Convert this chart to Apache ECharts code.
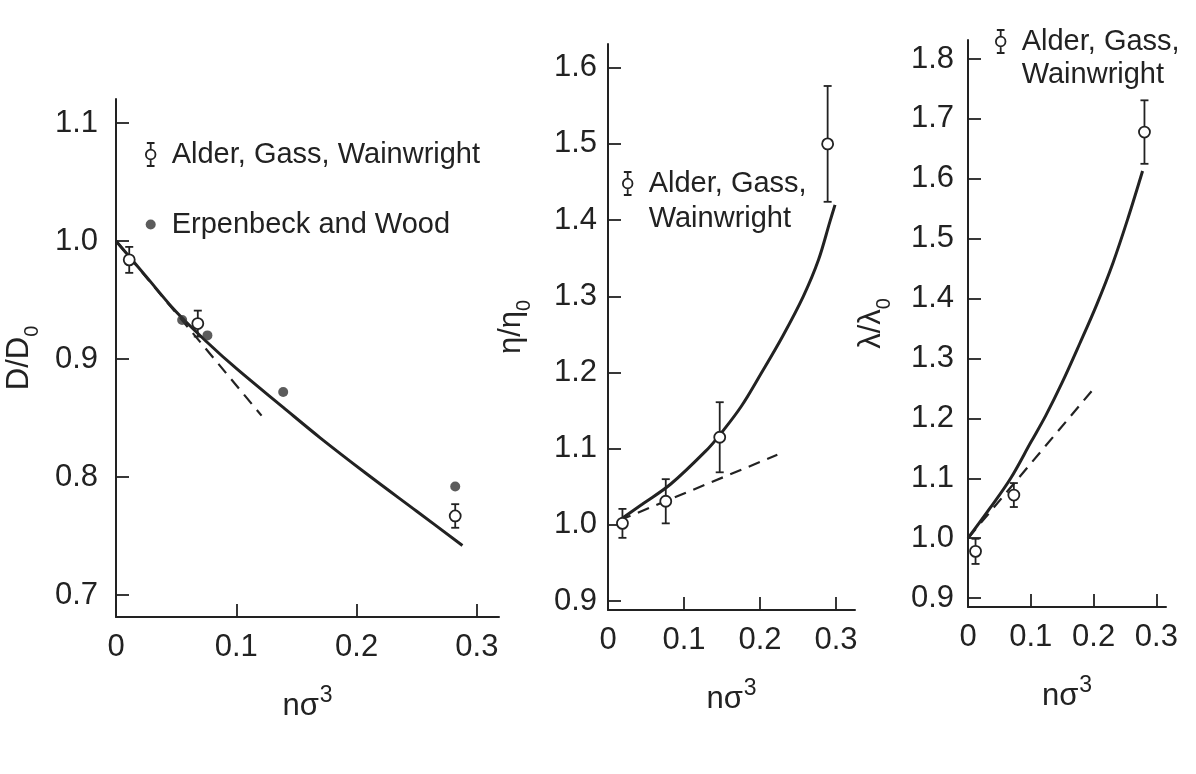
<!DOCTYPE html>
<html>
<head>
<meta charset="utf-8">
<title>Hard-sphere transport coefficients</title>
<script src="https://cdn.jsdelivr.net/npm/echarts@6/dist/echarts.min.js"></script>
<style>
  html, body { margin: 0; padding: 0; background: #fff; }
  #chart { width: 1196px; height: 774px; }
</style>
</head>
<body>
<div id="chart"></div>
<script>
// tick labels
var xTicks = [0, 0.1, 0.2, 0.3];
var diffTicks = [0.7, 0.8, 0.9, 1.0, 1.1];
var viscTicks = [0.9, 1.0, 1.1, 1.2, 1.3, 1.4, 1.5, 1.6];
var condTicks = [0.9, 1.0, 1.1, 1.2, 1.3, 1.4, 1.5, 1.6, 1.7, 1.8];

var agwName = 'Alder, Gass, Wainwright';
var ewName = 'Erpenbeck and Wood';

// panel 1: D/D0
var diffAgwX = [0.011, 0.068, 0.282];
var diffAgwY = [0.984, 0.930, 0.767];
var diffAgwErr = [0.011, 0.011, 0.010];
var diffEwX = [0.055, 0.076, 0.139, 0.282];
var diffEwY = [0.933, 0.920, 0.872, 0.792];
var diffCurveX = [0, 0.025, 0.05, 0.076, 0.1, 0.139, 0.17, 0.208, 0.25, 0.288];
var diffCurveY = [1.0, 0.970, 0.940, 0.914, 0.892, 0.859, 0.833, 0.803, 0.771, 0.742];
var diffDashX = [0, 0.121];
var diffDashY = [1.0, 0.852];

// panel 2: eta/eta0
var viscAgwX = [0.019, 0.076, 0.147, 0.289];
var viscAgwY = [1.002, 1.031, 1.115, 1.500];
var viscAgwErr = [0.019, 0.029, 0.046, 0.076];
var viscCurveX = [0.015, 0.045, 0.083, 0.1316, 0.147, 0.175, 0.2022, 0.23, 0.257, 0.277, 0.292, 0.2987];
var viscCurveY = [1.006, 1.027, 1.054, 1.100, 1.118, 1.155, 1.200, 1.248, 1.300, 1.348, 1.398, 1.420];
var viscDashX = [0.015, 0.2228];
var viscDashY = [1.006, 1.092];

// panel 3: lambda/lambda0
var condAgwX = [0.012, 0.073, 0.281];
var condAgwY = [0.978, 1.072, 1.678];
var condAgwErr = [0.021, 0.020, 0.053];
var condCurveX = [0, 0.035, 0.068, 0.1, 0.124, 0.15, 0.178, 0.205, 0.231, 0.255, 0.278];
var condCurveY = [1.0, 1.05, 1.10, 1.16, 1.205, 1.26, 1.325, 1.39, 1.46, 1.535, 1.613];
var condDashX = [0, 0.2045];
var condDashY = [1.0, 1.255];

var ink = '#222';
var fontFamily = '"Liberation Sans", Arial, Helvetica, sans-serif';
var errIcon = 'path://M1,0 L9,0 M5,0 L5,7 M10,12 A5,5 0 1,1 0,12 A5,5 0 1,1 10,12 Z M5,17 L5,24 M1,24 L9,24';

function zip(xs, ys) {
    return xs.map(function(x, i) { return [x, ys[i]]; });
}

function fmtTick(v) {
    return v === 0 ? '0' : v.toFixed(1);
}

function makeXAxis(idx, max) {
    return {
        type: 'value', gridIndex: idx, min: 0, max: max,
        name: '{n|nσ}{s|3}', nameLocation: 'middle', nameGap: 67,
        nameTextStyle: {
            color: ink, fontFamily: fontFamily,
            rich: {
                n: { fontSize: 31, fontFamily: fontFamily, color: ink, verticalAlign: 'bottom' },
                s: { fontSize: 23, fontFamily: fontFamily, color: ink, verticalAlign: 'bottom', padding: [0, 0, 15, 1] }
            }
        },
        splitLine: { show: false },
        axisLine: { lineStyle: { color: ink, width: 2 } },
        axisTick: { inside: true, length: 13, customValues: xTicks, lineStyle: { color: ink, width: 1.8 } },
        axisLabel: { customValues: xTicks, formatter: fmtTick, fontSize: 31, color: ink, fontFamily: fontFamily, margin: 15 }
    };
}

function makeYAxis(idx, min, max, ticks, base, labelMargin) {
    return {
        type: 'value', gridIndex: idx, min: min, max: max,
        name: '{a|' + base + '/' + base + '}{b|0}', nameLocation: 'middle', nameGap: 74, nameRotate: 90,
        nameTextStyle: {
            color: ink, fontFamily: fontFamily,
            rich: {
                a: { fontSize: 31, fontFamily: fontFamily, color: ink, verticalAlign: 'bottom', padding: [0, 0, 7, 0] },
                b: { fontSize: 20, fontFamily: fontFamily, color: ink, verticalAlign: 'bottom' }
            }
        },
        splitLine: { show: false },
        axisLine: { lineStyle: { color: ink, width: 2 } },
        axisTick: { inside: true, length: 13, customValues: ticks, lineStyle: { color: ink, width: 1.8 } },
        axisLabel: { customValues: ticks, formatter: fmtTick, fontSize: 31, color: ink, fontFamily: fontFamily, margin: labelMargin }
    };
}

function curveSeries(idx, xs, ys, dashed) {
    return {
        type: 'line', xAxisIndex: idx, yAxisIndex: idx,
        data: zip(xs, ys), smooth: dashed ? false : 0.35,
        showSymbol: false, silent: true, z: 2,
        lineStyle: dashed ? { color: ink, width: 2.2, type: [12, 8] } : { color: ink, width: 3 }
    };
}

function errorBarSeries(idx, xs, ys, errs) {
    return {
        type: 'custom', name: agwName, xAxisIndex: idx, yAxisIndex: idx, z: 3, silent: true,
        data: xs.map(function(x, i) { return [x, ys[i] - errs[i], ys[i] + errs[i]]; }),
        encode: { x: 0, y: [1, 2] },
        renderItem: function(params, api) {
            var lo = api.coord([api.value(0), api.value(1)]);
            var hi = api.coord([api.value(0), api.value(2)]);
            var w = 4;
            var st = { stroke: ink, lineWidth: 1.8 };
            return {
                type: 'group',
                children: [
                    { type: 'line', shape: { x1: lo[0], y1: lo[1], x2: hi[0], y2: hi[1] }, style: st },
                    { type: 'line', shape: { x1: lo[0] - w, y1: lo[1], x2: lo[0] + w, y2: lo[1] }, style: st },
                    { type: 'line', shape: { x1: hi[0] - w, y1: hi[1], x2: hi[0] + w, y2: hi[1] }, style: st }
                ]
            };
        }
    };
}

function openPointSeries(idx, xs, ys) {
    return {
        type: 'scatter', name: agwName, xAxisIndex: idx, yAxisIndex: idx, z: 4, silent: true,
        symbol: 'circle', symbolSize: 11, data: zip(xs, ys),
        itemStyle: { color: '#fff', borderColor: ink, borderWidth: 1.8, opacity: 1 }
    };
}

var legendText = { fontSize: 29, color: ink, fontFamily: fontFamily };
var legendIconStyle = { color: '#fff', borderColor: ink, borderWidth: 1.8 };
// two-line label, the leading blank line keeps the marker beside the first line
var twoLineLabel = function() { return '\nAlder, Gass,\nWainwright'; };

var chart = echarts.init(document.getElementById('chart'), null, { renderer: 'canvas' });

var option = {
    animation: false,
    backgroundColor: '#fff',
    grid: [
        { left: 116, top: 99, width: 383, height: 518 },
        { left: 608, top: 44, width: 247, height: 566 },
        { left: 968, top: 40, width: 198, height: 567 }
    ],
    xAxis: [
        makeXAxis(0, 0.3184),
        makeXAxis(1, 0.325),
        makeXAxis(2, 0.3153)
    ],
    yAxis: [
        makeYAxis(0, 0.6814, 1.1203, diffTicks, 'D', 18),
        makeYAxis(1, 0.8883, 1.6311, viscTicks, 'η', 11),
        makeYAxis(2, 0.8851, 1.8317, condTicks, 'λ', 14)
    ],
    legend: [
        {
            orient: 'vertical', left: 140, top: 135, itemGap: 41,
            itemWidth: 10, itemHeight: 23, selectedMode: false,
            textStyle: Object.assign({ padding: [0, 0, 0, 11] }, legendText),
            data: [
                { name: agwName, icon: errIcon, itemStyle: legendIconStyle },
                { name: ewName, icon: 'circle', itemStyle: { color: '#333', borderWidth: 0 } }
            ]
        },
        {
            left: 617, top: 126, itemWidth: 10, itemHeight: 23, selectedMode: false,
            formatter: twoLineLabel,
            textStyle: Object.assign({ padding: [0, 0, 0, 11], lineHeight: 35 }, legendText),
            data: [{ name: agwName, icon: errIcon, itemStyle: legendIconStyle }]
        },
        {
            left: 990, top: -13, itemWidth: 10, itemHeight: 23, selectedMode: false,
            formatter: twoLineLabel,
            textStyle: Object.assign({ padding: [0, 0, 0, 11], lineHeight: 33 }, legendText),
            data: [{ name: agwName, icon: errIcon, itemStyle: legendIconStyle }]
        }
    ],
    series: [
        curveSeries(0, diffCurveX, diffCurveY, false),
        curveSeries(0, diffDashX, diffDashY, true),
        errorBarSeries(0, diffAgwX, diffAgwY, diffAgwErr),
        openPointSeries(0, diffAgwX, diffAgwY),
        {
            type: 'scatter', name: ewName, xAxisIndex: 0, yAxisIndex: 0, z: 4, silent: true,
            symbol: 'circle', symbolSize: 10, data: zip(diffEwX, diffEwY),
            itemStyle: { color: '#333' }
        },

        curveSeries(1, viscCurveX, viscCurveY, false),
        curveSeries(1, viscDashX, viscDashY, true),
        errorBarSeries(1, viscAgwX, viscAgwY, viscAgwErr),
        openPointSeries(1, viscAgwX, viscAgwY),

        curveSeries(2, condCurveX, condCurveY, false),
        curveSeries(2, condDashX, condDashY, true),
        errorBarSeries(2, condAgwX, condAgwY, condAgwErr),
        openPointSeries(2, condAgwX, condAgwY)
    ]
};

chart.setOption(option);

window.addEventListener('resize', function() {
    chart && chart.resize();
});
</script>
</body>
</html>
